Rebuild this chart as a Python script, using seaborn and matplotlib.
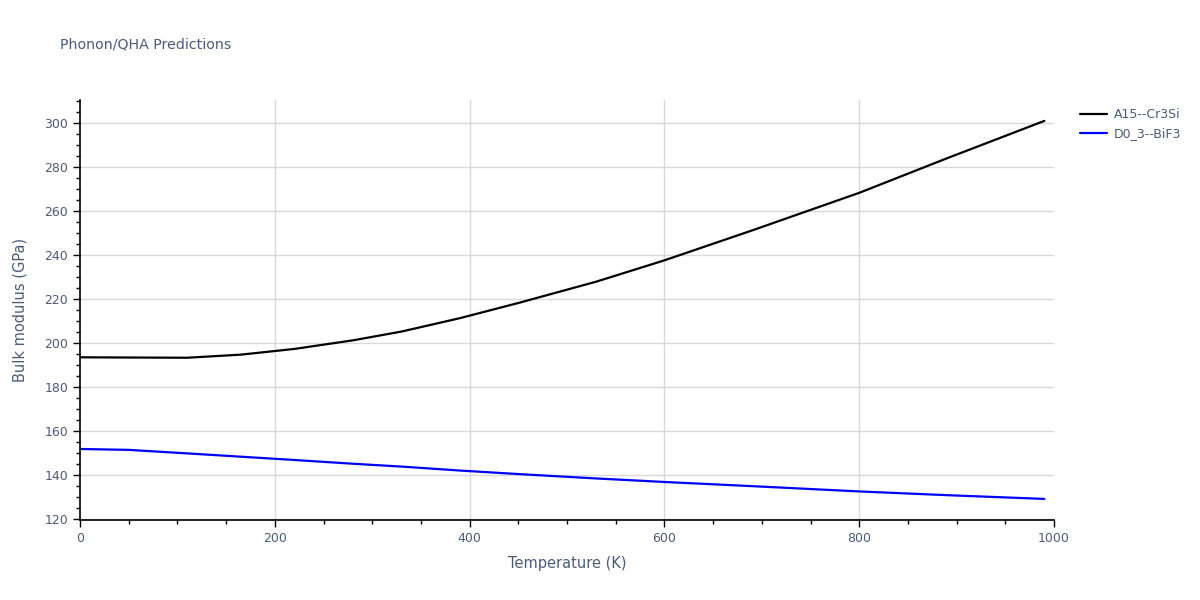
import numpy as np
import pandas as pd
import seaborn as sns
import matplotlib.pyplot as plt
from matplotlib.ticker import MultipleLocator

# values
temperature = [0, 50, 110, 165, 220, 280, 330, 390, 450, 530, 600, 690, 800, 890, 990]
bulk_a15 = [193.5, 193.4, 193.3, 194.7, 197.3, 201.2, 205.2, 211.3, 218.2, 227.9,
            237.6, 251.2, 268.3, 284.0, 301.0]
bulk_d03 = [151.8, 151.4, 149.8, 148.3, 146.8, 145.1, 143.8, 142.0, 140.4, 138.4,
            136.8, 134.9, 132.5, 130.8, 129.1]
series_names = ["A15--Cr3Si", "D0_3--BiF3"]
series_colors = ["black", "blue"]

df = pd.concat([
    pd.DataFrame({"T": temperature, "B": bulk_a15, "phase": series_names[0]}),
    pd.DataFrame({"T": temperature, "B": bulk_d03, "phase": series_names[1]}),
])

sns.set_theme(style="white")
plt.rcParams['font.family'] = ['DejaVu Sans']
text_color = "#4b5b78"

fig = plt.figure(figsize=(12, 6), dpi=100)
ax = fig.add_axes([0.0667, 0.1333, 0.8117, 0.7])

sns.lineplot(data=df, x="T", y="B", hue="phase", hue_order=series_names,
             palette=dict(zip(series_names, series_colors)), linewidth=1.6, ax=ax)

ax.set_xlim(0, 1000)
ax.set_ylim(119.5, 310.5)
ax.xaxis.set_major_locator(MultipleLocator(200))
ax.xaxis.set_minor_locator(MultipleLocator(50))
ax.yaxis.set_major_locator(MultipleLocator(20))
ax.yaxis.set_minor_locator(MultipleLocator(5))

ax.grid(True, which="major", color="#d9d9d9", linewidth=1)
ax.set_axisbelow(True)
for side in ["top", "right"]:
    ax.spines[side].set_visible(False)
for side in ["left", "bottom"]:
    ax.spines[side].set_color("black")
    ax.spines[side].set_linewidth(1.2)

ax.tick_params(which="major", direction="out", length=5, width=1, color="black",
               labelsize=9, labelcolor=text_color, left=True, bottom=True)
ax.tick_params(which="minor", direction="out", length=3, width=1, color="black",
               left=True, bottom=True)

ax.set_xlabel("Temperature (K)", fontsize=10.5, color=text_color, labelpad=8)
ax.set_ylabel("Bulk modulus (GPa)", fontsize=10.5, color=text_color, labelpad=12)
fig.text(0.05, 0.925, "Phonon/QHA Predictions", fontsize=10.2, color=text_color, va="center")

# no grid line on the plot edges
fig.canvas.draw()
for tick in ax.xaxis.get_major_ticks():
    if tick.get_loc() in (0, 1000):
        tick.gridline.set_visible(False)

leg = ax.legend(loc="upper left", bbox_to_anchor=(1.015, 1.008), frameon=False,
                fontsize=9, handlelength=2.2, handletextpad=0.5, borderaxespad=0.5)
for t in leg.get_texts():
    t.set_color(text_color)

fig.savefig("out.png", dpi=100)
